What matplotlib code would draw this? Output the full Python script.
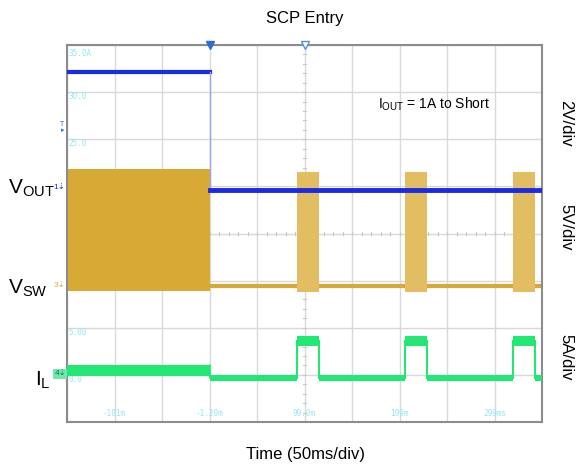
import numpy as np
import matplotlib
matplotlib.use("Agg")
import matplotlib.pyplot as plt

plt.rcParams['font.family'] = ['Liberation Sans', 'DejaVu Sans']
plt.rcParams['mathtext.fontset'] = 'custom'
plt.rcParams['mathtext.rm'] = 'Liberation Sans'
plt.rcParams['mathtext.it'] = 'Liberation Sans'

# ---- data (time in ms, trigger at 0; levels in screen divisions) ----
x_range = [-150, 350]
trigger_ms = 0
vout_before = 7.43
vout_after = 4.93
vsw_block = [2.79, 5.37]
vsw_after = 2.89
pulse_start = [92, 206, 319]
pulse_end = [115, 229, 343]
vsw_pulse = [2.76, 5.31]
il_before = 1.09
il_low = 0.93
il_high = 1.72
scope_ylabels = ["35.0A", "30.0", "25.0", "20.0", "15.0", "10.0", "5.00", "0.0"]
scope_ylabel_div = [8, 7, 6, 5, 4, 3, 2, 1]
scope_xlabels = ["-101m", "-1.20m", "99.0m", "199m", "299ms"]
scope_xlabel_ms = [-100, 0, 100, 200, 300]

BLUE = '#1B2BE3'
GOLD = '#D7A935'
GOLD_P = '#E2BD62'
GREEN = '#22E774'
CYAN = '#8FE8F2'

fig = plt.figure(figsize=(5.77, 4.72), dpi=100)
ax = fig.add_axes([67/577, 50/472, 475/577, 377/472])
ax.set_xlim(*x_range)
ax.set_ylim(0, 8)
ax.set_xticks([])
ax.set_yticks([])
for s in ax.spines.values():
    s.set_color('#8C8C8C')
    s.set_linewidth(1.5)

# grid
for gx in np.arange(x_range[0], x_range[1] + 1, 50):
    ax.axvline(gx, color='#D9D9D9', lw=1, zorder=0)
for gy in range(0, 9):
    ax.axhline(gy, color='#D9D9D9', lw=1, zorder=0)
# center minor ticks
cx = (x_range[0] + x_range[1]) / 2
for t in np.arange(0, 8.01, 0.2):
    ax.plot([cx - 2, cx + 2], [t, t], color='#C8C8C8', lw=0.8, zorder=0)
for t in np.arange(x_range[0], x_range[1] + 0.1, 10):
    ax.plot([t, t], [3.96, 4.04], color='#C8C8C8', lw=0.8, zorder=0)

# scope labels
for lab, yv in zip(scope_ylabels, scope_ylabel_div):
    ax.text(x_range[0] + 2, yv - 0.1 if yv < 8 else yv - 0.18, lab, color=CYAN,
            fontsize=5.5, family='DejaVu Sans Mono', va='center', ha='left', zorder=1)
for lab, xv in zip(scope_xlabels, scope_xlabel_ms):
    ax.text(xv, 0.08, lab, color=CYAN, fontsize=5.5, family='DejaVu Sans Mono',
            ha='center', va='bottom', zorder=1)

# Gold SW
ax.fill_between([x_range[0], trigger_ms], vsw_block[0], vsw_block[1], color=GOLD, lw=0, zorder=2)
ax.plot([trigger_ms, x_range[1]], [vsw_after, vsw_after], color=GOLD, lw=3, zorder=2)
for a, b in zip(pulse_start, pulse_end):
    ax.fill_between([a, b], vsw_pulse[0], vsw_pulse[1], color=GOLD_P, lw=0, zorder=2)

# Blue VOUT
ax.plot([x_range[0], trigger_ms], [vout_before, vout_before], color=BLUE, lw=3, zorder=3)
ax.plot([trigger_ms, trigger_ms], [vout_after, vout_before], color='#9AA3E8', lw=1, zorder=3)
ax.plot([trigger_ms, x_range[1]], [vout_after, vout_after], color=BLUE, lw=3.5, zorder=3)

# Green IL
ax.fill_between([x_range[0], trigger_ms], il_before - 0.12, il_before + 0.12, color=GREEN, lw=0, zorder=3)
ax.plot([trigger_ms, trigger_ms], [il_low, il_before + 0.12], color=GREEN, lw=1.2, zorder=3)
seg_x = [trigger_ms] + [v for pair in zip(pulse_start, pulse_end) for v in pair] + [x_range[1]]
for i in range(len(seg_x) - 1):
    a, b = seg_x[i], seg_x[i + 1]
    if i % 2 == 0:
        ax.fill_between([a, b], il_low - 0.06, il_low + 0.06, color=GREEN, lw=0, zorder=3)
    else:
        ax.fill_between([a, b], il_high - 0.1, il_high + 0.1, color=GREEN, lw=0, zorder=3)
        ax.plot([a, a], [il_low, il_high], color=GREEN, lw=1.5, zorder=3)
        ax.plot([b, b], [il_low, il_high], color=GREEN, lw=1.5, zorder=3)

# top markers
ax.plot([trigger_ms], [8], marker='v', color='#2A6FD6', ms=6, clip_on=False, zorder=5)
ax.plot([cx], [8], marker='v', mfc='white', mec='#5A8FE0', ms=6, clip_on=False, zorder=5)

# left small channel markers
ax.text(x_range[0] - 3, 6.25, 'T\n▸', color='#2A6FD6', fontsize=5, ha='right', va='center',
        linespacing=0.8, clip_on=False)
ax.text(x_range[0] - 2, vout_after + 0.05, '1⇣', color=BLUE, fontsize=6, ha='right', va='center', clip_on=False)
ax.text(x_range[0] - 2, vsw_after, '3⇣', color=GOLD, fontsize=6, ha='right', va='center', clip_on=False)
ax.text(x_range[0] - 1, il_before - 0.07, '4⇣', color='#0A7A3A', fontsize=6, ha='right', va='center',
        clip_on=False, bbox=dict(boxstyle='square,pad=0.15', fc='#6FE8B0', ec='none'))

# channel names
fig.text(8/577, 1 - 188/472, r'V$_{\mathrm{OUT}}$', fontsize=15, ha='left', va='center')
fig.text(8/577, 1 - 288/472, r'V$_{\mathrm{SW}}$', fontsize=15, ha='left', va='center')
fig.text(35/577, 1 - 380/472, r'I$_{\mathrm{L}}$', fontsize=15, ha='left', va='center')

# right scale labels
fig.text(566/577, 1 - 123/472, '2V/div', fontsize=12, rotation=-90, ha='center', va='center')
fig.text(566/577, 1 - 227/472, '5V/div', fontsize=12, rotation=-90, ha='center', va='center')
fig.text(566/577, 1 - 357/472, '5A/div', fontsize=12, rotation=-90, ha='center', va='center')

# annotation
fig.text(378/577, 1 - 104/472, r'I$_{\mathrm{OUT}}$ = 1A to Short', fontsize=10, ha='left', va='center')

fig.text(305/577, 1 - 18/472, 'SCP Entry', fontsize=12, ha='center', va='center')
fig.text(305/577, 1 - 455/472, 'Time (50ms/div)', fontsize=12, ha='center', va='center')

fig.savefig('out.png', dpi=100)
